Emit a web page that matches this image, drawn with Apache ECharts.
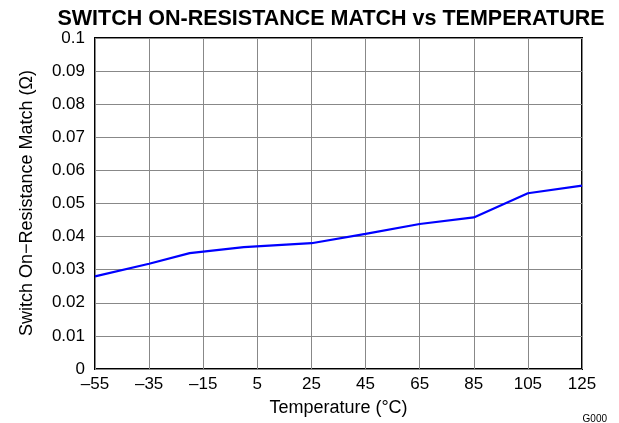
<!DOCTYPE html>
<html><head><meta charset="utf-8">
<script src="https://cdn.jsdelivr.net/npm/echarts@6/dist/echarts.min.js"></script>
<style>html,body{margin:0;padding:0;background:#fff}#c{width:619px;height:423px}</style>
</head><body><div id="c"></div>
<script>
const temperatures = [-55, -35, -20, 0, 25, 45, 65, 85, 105, 125];
const matchValues = [0.028, 0.0318, 0.035, 0.0368, 0.038, 0.0408, 0.0438, 0.0458, 0.0531, 0.0554];
const xTicks = [-55, -35, -15, 5, 25, 45, 65, 85, 105, 125];
const titleText = 'SWITCH ON-RESISTANCE MATCH vs TEMPERATURE';
const xName = 'Temperature (°C)';
const yName = 'Switch On\u2212Resistance Match (\u03A9)';
const font = 'Liberation Sans, Arial, sans-serif';
const chart = echarts.init(document.getElementById('c'));
chart.setOption({
  animation: false,
  title: { text: titleText, left: 331, textAlign: 'center', top: 8, padding: 0,
    textStyle: { fontFamily: font, fontWeight: 'bold', fontSize: 21.5, color: '#000' } },
  grid: { left: 95, right: 37, top: 38, bottom: 54, show: true, borderColor: '#000', borderWidth: 2 },
  xAxis: { type: 'value', min: -55, max: 125, interval: 20,
    name: xName, nameLocation: 'middle', nameGap: 30,
    nameTextStyle: { fontFamily: font, fontSize: 18, color: '#000' },
    axisLine: { show: false }, axisTick: { show: false },
    axisLabel: { fontFamily: font, fontSize: 17, color: '#000', margin: 7,
      formatter: v => (v < 0 ? '\u2013' + Math.abs(v) : '' + v) },
    splitLine: { lineStyle: { color: '#888', width: 1 } } },
  yAxis: { type: 'value', min: 0, max: 0.1, interval: 0.01,
    axisLine: { show: false }, axisTick: { show: false },
    axisLabel: { fontFamily: font, fontSize: 17, color: '#000', margin: 10,
      formatter: v => (v === 0 ? '0' : parseFloat(v.toFixed(2)).toString()) },
    splitLine: { lineStyle: { color: '#888', width: 1 } } },
  graphic: [
    { type: 'text', x: 27, y: 203, rotation: Math.PI / 2,
      style: { text: yName, fontFamily: font, fontSize: 18, fill: '#000', align: 'center', verticalAlign: 'middle' } },
    { type: 'text', right: 12, top: 414,
      style: { text: 'G000', fontFamily: font, fontSize: 10, fill: '#000' } }],
  series: [{ type: 'line', data: temperatures.map((t, i) => [t, matchValues[i]]),
    showSymbol: false, lineStyle: { color: '#0000ff', width: 2.2 } }]
});
</script></body></html>
